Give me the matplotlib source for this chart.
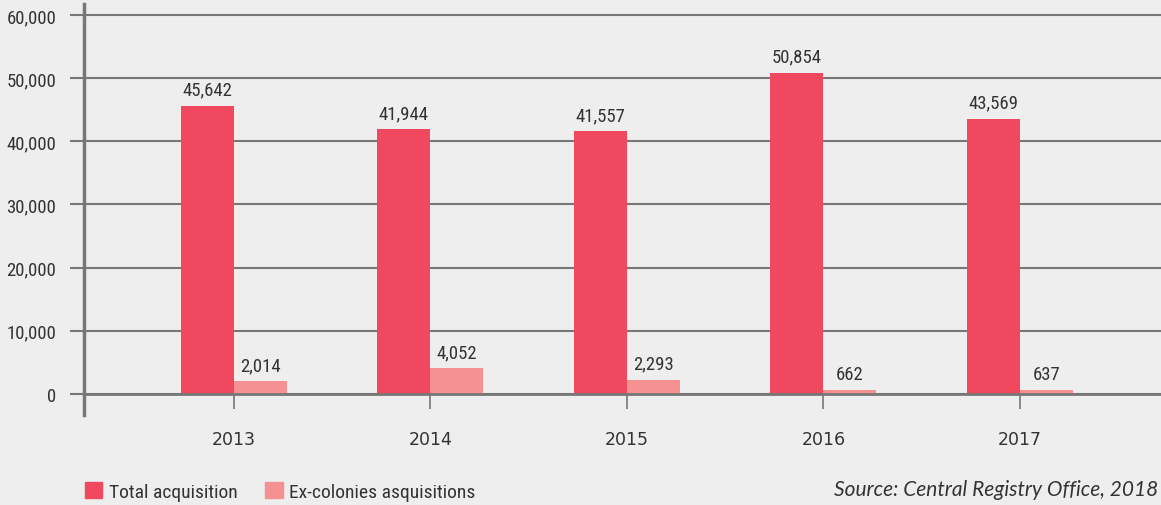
import matplotlib.pyplot as plt
import numpy as np
from matplotlib.patches import Patch

# data
years = ["2013", "2014", "2015", "2016", "2017"]
total = [45642, 41944, 41557, 50854, 43569]
ex_colonies = [2014, 4052, 2293, 662, 637]

bg = "#eeeeee"
red = "#f0485f"
pink = "#f59190"
grey = "#777777"
txt = "#333333"
cond = ["Roboto Condensed", "DejaVu Sans"]

fig = plt.figure(figsize=(11.61, 5.06), dpi=100, facecolor=bg)
ax = fig.add_axes([84 / 1161, 90 / 506, 1 - 84 / 1161, 411 / 506])
ax.set_facecolor(bg)

x = np.arange(len(years))
width = 0.27

b1 = ax.bar(x - width / 2, total, width=width, color=red, zorder=3)
b2 = ax.bar(x + width / 2, ex_colonies, width=width, color=pink, zorder=3)

# value labels
for rects, vals in [(b1, total), (b2, ex_colonies)]:
    for r, v in zip(rects, vals):
        ax.annotate(f"{v:,}", (r.get_x() + r.get_width() / 2, v),
                    xytext=(0, 5), textcoords="offset points",
                    ha="center", va="bottom", fontsize=13.5, color=txt,
                    family=cond)

ax.set_xlim(-0.763, 4.718)
ax.set_ylim(-3325, 61741)
ax.set_yticks(range(0, 60001, 10000))
ax.set_yticklabels([f"{v:,}" for v in range(0, 60001, 10000)], family=cond)
ax.set_xticks(x)
ax.set_xticklabels(years, family=cond)

ax.grid(axis="y", color=grey, linewidth=1.5, zorder=1)
ax.axhline(0, color=grey, linewidth=2, zorder=4)
for s in ["top", "right", "bottom"]:
    ax.spines[s].set_visible(False)
ax.spines["left"].set_color(grey)
ax.spines["left"].set_linewidth(2.5)

ax.tick_params(axis="y", length=10, width=1.5, color=grey, labelsize=13.5,
               labelcolor=txt, pad=10)
ax.tick_params(axis="x", length=11, width=1.2, color=grey, labelsize=12.5,
               labelcolor=txt, pad=15, direction="out")
# x ticks hang from the zero line
ax.spines["bottom"].set_position(("data", 0))

handles = [Patch(color=red, label="Total acquisition"),
           Patch(color=pink, label="Ex-colonies asquisitions")]
fig.legend(handles=handles, loc="lower left", bbox_to_anchor=(0.058, -0.026),
           ncol=2, frameon=False, handlelength=0.9, handleheight=0.9,
           handletextpad=0.35, columnspacing=1.4,
           prop={"family": cond, "size": 14}, labelcolor=txt)

fig.text(0.998, 0.012, "Source: Central Registry Office, 2018", ha="right",
         va="bottom", fontsize=15, style="italic", family="Lato", color=txt)

fig.savefig("out.png", dpi=100, facecolor=bg)
